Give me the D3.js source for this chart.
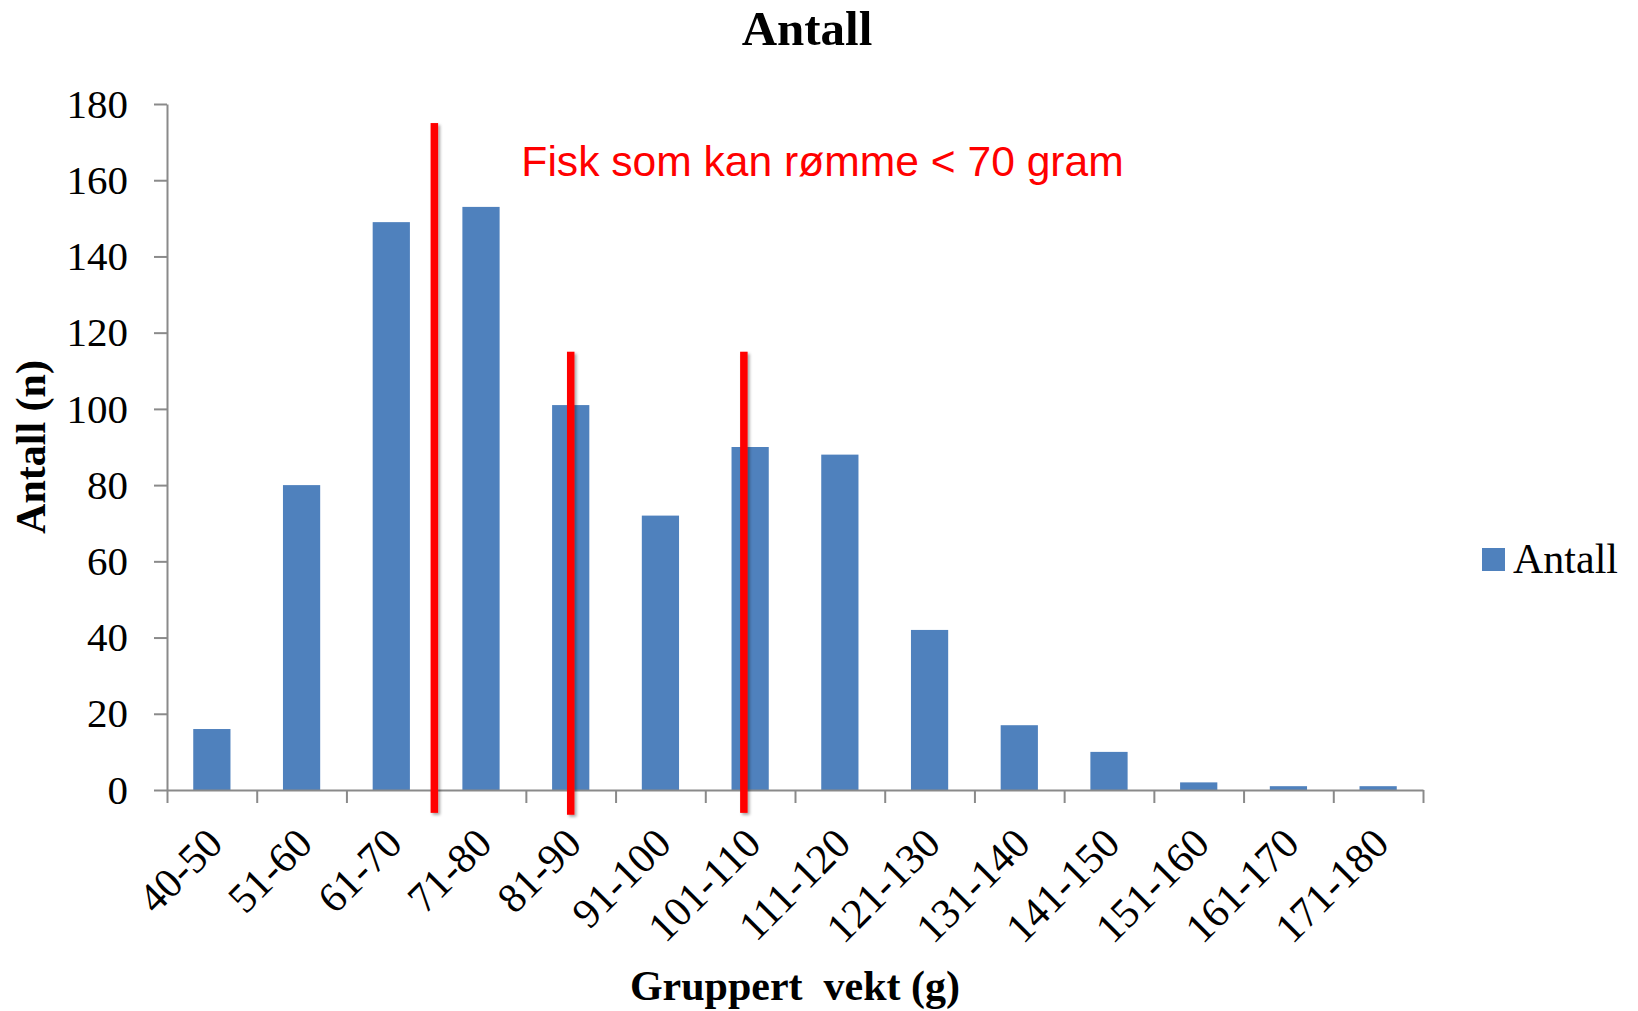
<!DOCTYPE html>
<html>
<head>
<meta charset="utf-8">
<script src="https://cdn.jsdelivr.net/npm/d3@7"></script>
<style>
  html, body { margin: 0; padding: 0; background: #fff; }
  svg { display: block; }
  .serif { font-family: "Liberation Serif", "Times New Roman", serif; }
</style>
</head>
<body>
<svg id="chart" width="1638" height="1011"></svg>
<script>
// Antall fisk per vektgruppe, med røde markeringslinjer

const categories = ["40-50","51-60","61-70","71-80","81-90","91-100","101-110",
  "111-120","121-130","131-140","141-150","151-160","161-170","171-180"];
const antall = [16, 80, 149, 153, 101, 72, 90, 88, 42, 17, 10, 2, 1, 1];
const yTicks = [0, 20, 40, 60, 80, 100, 120, 140, 160, 180];

// red marker lines: position in category units, top/bottom in axis units
const markerPos = [2.98, 4.5, 6.43];
const markerTop = [175, 115, 115];
const markerBottom = [-6, -6.5, -6];
const noteText = "Fisk som kan rømme < 70 gram";
const notePos = [3.95, 161];

const plotLeft = 167, plotRight = 1423, plotTop = 104, plotBottom = 790;
const axisColor = "#8a8a8a";
const barColor = "#4F81BD";
const markerW = 7.5;

const svg = d3.select("#chart");

const defs = svg.append("defs");
defs.append("filter").attr("id", "shadow")
  .attr("x", "-100%").attr("y", "-5%").attr("width", "300%").attr("height", "110%")
  .append("feDropShadow")
  .attr("dx", 2).attr("dy", 2).attr("stdDeviation", 1.5)
  .attr("flood-color", "#000").attr("flood-opacity", 0.35);

const x = d3.scaleBand().domain(categories).range([plotLeft, plotRight])
  .paddingInner(0.585).paddingOuter(0.2925);
const xUnit = d3.scaleLinear().domain([0, categories.length]).range([plotLeft, plotRight]);
const y = d3.scaleLinear().domain([0, 180]).range([plotBottom, plotTop]);

// bars
svg.append("g")
  .selectAll("rect")
  .data(categories)
  .enter().append("rect")
  .attr("x", d => x(d))
  .attr("y", (d, i) => y(antall[i]))
  .attr("width", x.bandwidth())
  .attr("height", (d, i) => y(0) - y(antall[i]))
  .attr("fill", barColor);

// y axis
const yAxis = svg.append("g")
  .attr("transform", `translate(${plotLeft},0)`)
  .call(d3.axisLeft(y).tickValues(yTicks).tickSize(13).tickSizeOuter(0).tickPadding(26));
yAxis.select(".domain").attr("stroke", axisColor).attr("stroke-width", 2);
yAxis.selectAll(".tick line").attr("stroke", axisColor).attr("stroke-width", 2);
yAxis.selectAll(".tick text")
  .attr("class", "serif")
  .attr("font-size", 41)
  .attr("fill", "#000");

// x axis: ticks at category boundaries
const xAxis = svg.append("g")
  .attr("transform", `translate(0,${plotBottom})`)
  .call(d3.axisBottom(xUnit).tickValues(d3.range(categories.length + 1))
    .tickSize(13).tickSizeOuter(0).tickFormat(""));
xAxis.select(".domain").attr("stroke", axisColor).attr("stroke-width", 2);
xAxis.selectAll(".tick line").attr("stroke", axisColor).attr("stroke-width", 2);

// x category labels, rotated
svg.append("g")
  .selectAll("text")
  .data(categories)
  .enter().append("text")
  .attr("class", "serif")
  .attr("font-size", 42)
  .attr("text-anchor", "end")
  .attr("transform", d => `translate(${x(d) + x.bandwidth() / 2 + 13},${plotBottom + 56}) rotate(-45)`)
  .text(d => d);

// red marker lines (rects so the shadow filter has a real box)
svg.append("g")
  .selectAll("rect")
  .data(markerPos)
  .enter().append("rect")
  .attr("x", d => xUnit(d) - markerW / 2)
  .attr("width", markerW)
  .attr("y", (d, i) => y(markerTop[i]))
  .attr("height", (d, i) => y(markerBottom[i]) - y(markerTop[i]))
  .attr("fill", "#ff0000")
  .attr("filter", "url(#shadow)");

// red note
svg.append("text")
  .attr("x", xUnit(notePos[0]))
  .attr("y", y(notePos[1]))
  .attr("font-family", "'Liberation Sans', Arial, sans-serif")
  .attr("font-size", 42.6)
  .attr("fill", "#ff0000")
  .text(noteText);

// title
svg.append("text")
  .attr("class", "serif")
  .attr("x", 807).attr("y", 45)
  .attr("text-anchor", "middle")
  .attr("font-size", 49).attr("font-weight", "bold")
  .text("Antall");

// axis titles
svg.append("text")
  .attr("class", "serif")
  .attr("x", 795).attr("y", 1000)
  .attr("text-anchor", "middle")
  .attr("font-size", 42).attr("font-weight", "bold")
  .style("white-space", "pre")
  .text("Gruppert  vekt (g)");

svg.append("text")
  .attr("class", "serif")
  .attr("transform", "translate(45,447) rotate(-90)")
  .attr("text-anchor", "middle")
  .attr("font-size", 42).attr("font-weight", "bold")
  .text("Antall (n)");

// legend
const legend = svg.append("g").attr("transform", "translate(1482,548)");
legend.append("rect").attr("width", 23).attr("height", 23).attr("fill", barColor);
legend.append("text")
  .attr("class", "serif")
  .attr("x", 31).attr("y", 25)
  .attr("font-size", 42)
  .text("Antall");
</script>
</body>
</html>
